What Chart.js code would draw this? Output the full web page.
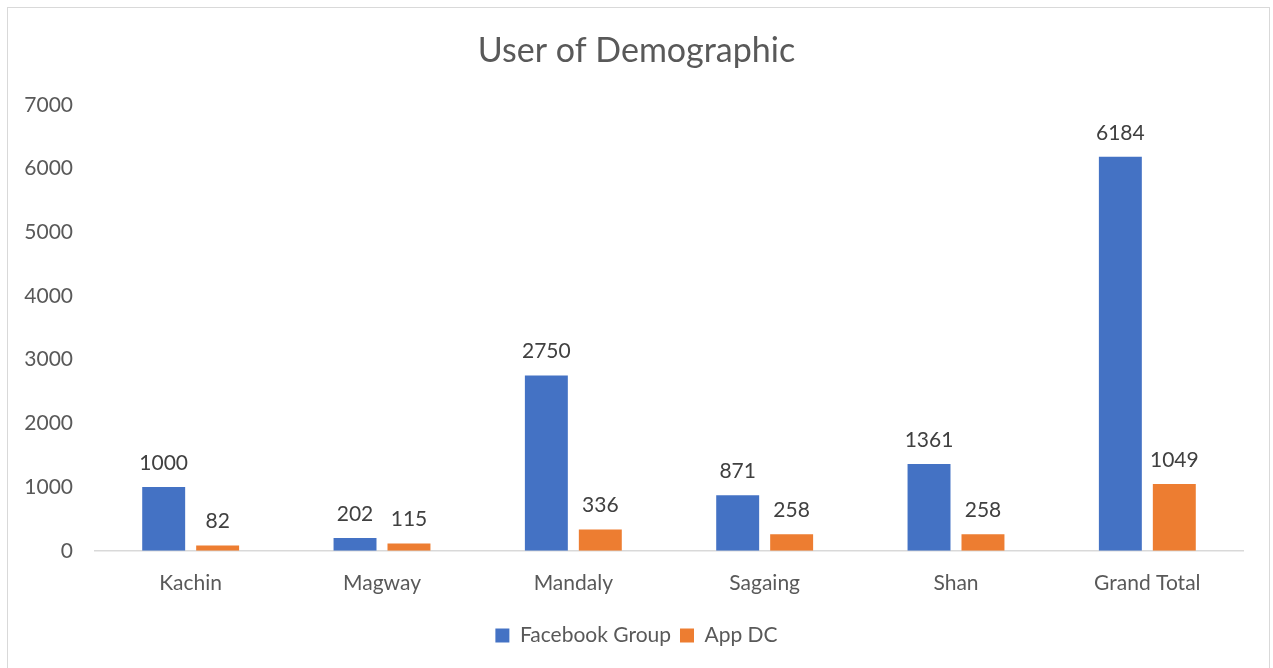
<!DOCTYPE html>
<html>
<head>
<meta charset="utf-8">
<script src="https://cdn.jsdelivr.net/npm/chart.js@4/dist/chart.umd.min.js"></script>
<style>
  html, body { margin: 0; padding: 0; background: #fff; }
  #frame { position: absolute; left: 7px; top: 7px; width: 1263px; height: 700px; border: 1px solid #d9d9d9; box-sizing: border-box; }
  #wrap { position: absolute; left: 0; top: 0; width: 1273px; height: 668px; }
</style>
</head>
<body>
<div id="frame"></div>
<div id="wrap"><canvas id="c" width="1273" height="668"></canvas></div>
<script>
const categories = ["Kachin", "Magway", "Mandaly", "Sagaing", "Shan", "Grand Total"];
const facebookGroup = [1000, 202, 2750, 871, 1361, 6184];
const appDC = [82, 115, 336, 258, 258, 1049];
const seriesNames = ["Facebook Group", "App DC"];
const yTicks = [0, 1000, 2000, 3000, 4000, 5000, 6000, 7000];

const FONT = "Lato, 'Open Sans', sans-serif";

const dataLabels = {
  id: 'dataLabels',
  afterDatasetsDraw(chart) {
    const ctx = chart.ctx;
    ctx.save();
    ctx.font = "21px " + FONT;
    ctx.fillStyle = "#404040";
    ctx.textAlign = "center";
    ctx.textBaseline = "middle";
    chart.data.datasets.forEach((ds, i) => {
      const meta = chart.getDatasetMeta(i);
      meta.data.forEach((bar, j) => {
        ctx.fillText(String(ds.data[j]), bar.x, bar.y - 24);
      });
    });
    ctx.restore();
  }
};

new Chart(document.getElementById('c'), {
  type: 'bar',
  data: {
    labels: categories,
    datasets: [
      { label: seriesNames[0], data: facebookGroup, backgroundColor: '#4472C4' },
      { label: seriesNames[1], data: appDC, backgroundColor: '#ED7D31' }
    ]
  },
  options: {
    responsive: false,
    animation: false,
    devicePixelRatio: 1,
    categoryPercentage: 0.564,
    barPercentage: 0.796,
    layout: { padding: { left: 0, right: 0, top: 0, bottom: 12 } },
    plugins: {
      title: {
        display: true,
        text: 'User of Demographic',
        color: '#595959',
        font: { family: FONT, size: 34, weight: 'normal' },
        padding: { top: 31, bottom: 33 }
      },
      legend: {
        position: 'bottom',
        labels: {
          color: '#595959',
          font: { family: FONT, size: 21 },
          boxWidth: 14, boxHeight: 14,
          padding: 9
        }
      },
      tooltip: { enabled: false }
    },
    scales: {
      x: {
        grid: { display: false, drawTicks: false },
        border: { display: true, color: '#d9d9d9', width: 1.5 },
        ticks: { color: '#595959', font: { family: FONT, size: 21 }, padding: 20 }
      },
      y: {
        min: 0, max: 7000,
        afterFit(scale) { scale.width = 95; },
        afterBuildTicks(scale) { scale.ticks = yTicks.map(v => ({ value: v })); },
        grid: { display: false, drawTicks: false },
        border: { display: false },
        ticks: { color: '#595959', font: { family: FONT, size: 21 }, padding: 22, callback: v => String(v) }
      },
      yRight: {
        position: 'right',
        min: 0, max: 7000,
        afterFit(scale) { scale.width = 30; },
        grid: { display: false, drawTicks: false },
        border: { display: false },
        ticks: { display: false }
      }
    }
  },
  plugins: [dataLabels]
});
</script>
</body>
</html>
